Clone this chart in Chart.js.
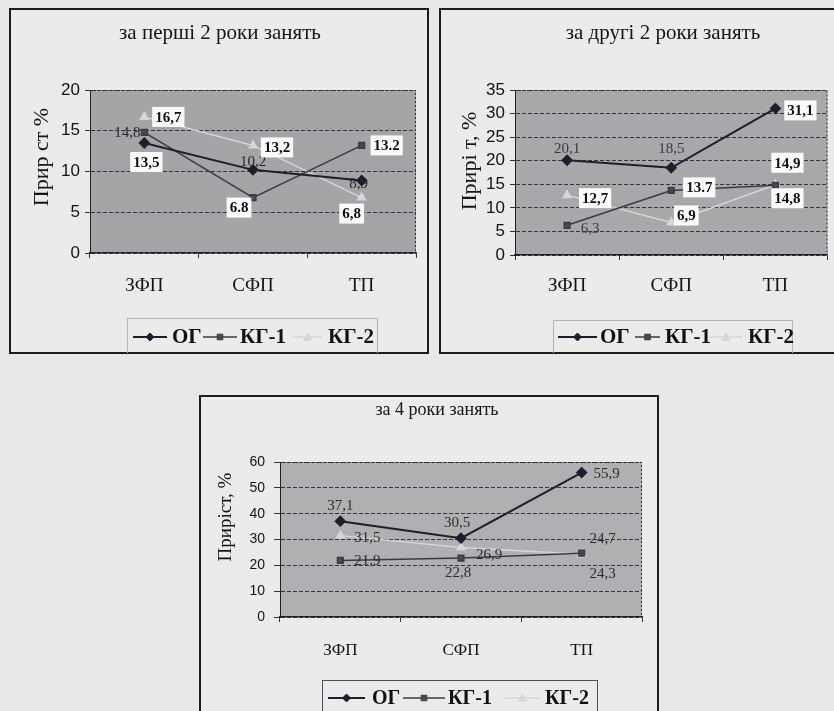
<!DOCTYPE html>
<html>
<head>
<meta charset="utf-8">
<script src="https://cdn.jsdelivr.net/npm/chart.js@4.4.1/dist/chart.umd.min.js"></script>
<style>
  html, body { margin: 0; padding: 0; }
  body { width: 834px; height: 711px; overflow: hidden; position: relative; background: #e8e8e8; }
  .frame { position: absolute; border: 2px solid #1c1c24; box-sizing: border-box; background: #ebebeb; }
  canvas { position: absolute; }
</style>
</head>
<body>
<div class="frame" style="left:9px; top:8px; width:420px; height:346px;"></div>
<div class="frame" style="left:439px; top:8px; width:400px; height:346px;"></div>
<div class="frame" style="left:199px; top:395px; width:460px; height:322px;"></div>
<canvas id="c1" width="418" height="345" style="left:10px; top:8px;"></canvas>
<canvas id="c2" width="394" height="345" style="left:440px; top:8px;"></canvas>
<canvas id="c3" width="460" height="315" style="left:200px; top:396px;"></canvas>
<script>
// Categories and series names shared by all three panels
const categories = ['ЗФП', 'СФП', 'ТП'];
const seriesNames = ['ОГ', 'КГ-1', 'КГ-2'];

// за перші 2 роки занять
const og1 = [13.5, 10.2, 8.9];
const kg1First = [14.8, 6.8, 13.2];
const kg2First = [16.7, 13.2, 6.8];
const yTicks1 = [0, 5, 10, 15, 20];

// за другі 2 роки занять
const og2 = [20.1, 18.5, 31.1];
const kg1Second = [6.3, 13.7, 14.8];
const kg2Second = [12.7, 6.9, 14.9];
const yTicks2 = [0, 5, 10, 15, 20, 25, 30, 35];

// за 4 роки занять
const og3 = [37.1, 30.5, 55.9];
const kg1Total = [21.9, 22.8, 24.7];
const kg2Total = [31.5, 26.9, 24.3];
const yTicks3 = [0, 10, 20, 30, 40, 50, 60];

const SERIF = "'Liberation Serif', 'Times New Roman', serif";
const SANS = "'Liberation Sans', Arial, sans-serif";

const seriesStyles = [
  { line: '#1e1e2c', fill: '#1e1e2c', width: 2, marker: 'rectRot', r: 4.5 },
  { line: '#3a3a44', fill: '#4a4a52', width: 1.5, marker: 'rect', r: 4 },
  { line: '#d6d6da', fill: '#d6d6da', width: 1.5, marker: 'triangle', r: 4.5 }
];

function buildDatasets(values) {
  return values.map((data, i) => ({
    label: seriesNames[i],
    data: data,
    borderColor: seriesStyles[i].line,
    backgroundColor: seriesStyles[i].fill,
    borderWidth: seriesStyles[i].width,
    pointStyle: seriesStyles[i].marker,
    pointRadius: seriesStyles[i].r,
    pointBorderColor: seriesStyles[i].line,
    pointBackgroundColor: seriesStyles[i].fill,
    tension: 0
  }));
}

// grey plot area and dotted frame around it
const plotArea = {
  id: 'plotArea',
  beforeDraw(chart, args, opts) {
    const { ctx, chartArea: a } = chart;
    ctx.save();
    ctx.fillStyle = opts.color;
    ctx.fillRect(a.left, a.top, a.right - a.left, a.bottom - a.top);
    ctx.restore();
  },
  afterDraw(chart) {
    const { ctx, chartArea: a } = chart;
    ctx.save();
    ctx.strokeStyle = '#30303a';
    ctx.lineWidth = 1;
    ctx.setLineDash([2, 2]);
    ctx.beginPath();
    ctx.moveTo(a.left, a.top + 0.5);
    ctx.lineTo(a.right - 0.5, a.top + 0.5);
    ctx.lineTo(a.right - 0.5, a.bottom);
    ctx.stroke();
    ctx.restore();
  }
};

// chart title and rotated value-axis title
const headings = {
  id: 'headings',
  afterDraw(chart, args, opts) {
    const ctx = chart.ctx;
    ctx.save();
    ctx.fillStyle = '#141418';
    ctx.textAlign = 'center';
    ctx.textBaseline = 'middle';
    ctx.font = opts.titleFont;
    ctx.fillText(opts.title, opts.titleX, opts.titleY);
    ctx.translate(opts.yTitleX, opts.yTitleY);
    ctx.rotate(-Math.PI / 2);
    ctx.font = opts.yTitleFont;
    ctx.fillText(opts.yTitle, 0, 0);
    ctx.restore();
  }
};

// value labels next to every point
const valueLabels = {
  id: 'valueLabels',
  afterDatasetsDraw(chart, args, opts) {
    const ctx = chart.ctx;
    ctx.save();
    chart.data.datasets.forEach((ds, i) => {
      const meta = chart.getDatasetMeta(i);
      meta.data.forEach((pt, j) => {
        const [dx, dy] = opts.offsets[i][j];
        const sep = (opts.dotSep && opts.dotSep[i][j]) ? '.' : ',';
        const txt = ds.data[j].toFixed(1).replace('.', sep);
        const boxed = opts.boxed[i][j];
        ctx.font = boxed ? opts.boxFont : opts.plainFont;
        const w = ctx.measureText(txt).width;
        const x = pt.x + dx;
        const y = pt.y + dy;
        if (boxed) {
          ctx.fillStyle = '#fbfbfb';
          ctx.fillRect(x - w / 2 - 3, y - 10, w + 6, 20);
        }
        ctx.fillStyle = boxed ? '#101010' : opts.plainColor;
        ctx.textAlign = 'center';
        ctx.textBaseline = 'middle';
        ctx.fillText(txt, x, y + 1);
      });
    });
    ctx.restore();
  }
};

function drawMarker(ctx, style, x, y, r) {
  ctx.beginPath();
  if (style === 'rectRot') {
    ctx.moveTo(x, y - r); ctx.lineTo(x + r, y); ctx.lineTo(x, y + r); ctx.lineTo(x - r, y);
  } else if (style === 'rect') {
    ctx.rect(x - r * 0.8, y - r * 0.8, r * 1.6, r * 1.6);
  } else {
    ctx.moveTo(x, y - r); ctx.lineTo(x + r, y + r * 0.8); ctx.lineTo(x - r, y + r * 0.8);
  }
  ctx.closePath();
  ctx.fill();
  ctx.stroke();
}

// boxed legend below the plot: line sample with marker, then the series name
const boxLegend = {
  id: 'boxLegend',
  afterDraw(chart, args, opts) {
    const ctx = chart.ctx;
    const [bx, by, bw, bh] = opts.box;
    ctx.save();
    ctx.strokeStyle = opts.borderColor;
    ctx.lineWidth = 1;
    ctx.strokeRect(bx + 0.5, by + 0.5, bw, bh);
    chart.data.datasets.forEach((ds, i) => {
      const [x0, x1, tx] = opts.items[i];
      const st = seriesStyles[i];
      ctx.strokeStyle = st.line;
      ctx.fillStyle = st.fill;
      ctx.lineWidth = st.width;
      ctx.beginPath();
      ctx.moveTo(x0, opts.cy);
      ctx.lineTo(x1, opts.cy);
      ctx.stroke();
      ctx.lineWidth = 1;
      drawMarker(ctx, st.marker, (x0 + x1) / 2, opts.cy, st.r - 0.5);
      ctx.fillStyle = '#101010';
      ctx.font = opts.font;
      ctx.textAlign = 'left';
      ctx.textBaseline = 'middle';
      ctx.fillText(ds.label, tx, opts.cy + 1);
    });
    ctx.restore();
  }
};

function makeChart(id, values, ticks, cfg) {
  return new Chart(document.getElementById(id), {
    type: 'line',
    data: { labels: categories, datasets: buildDatasets(values) },
    options: {
      responsive: false,
      animation: false,
      devicePixelRatio: 1,
      layout: { padding: cfg.padding },
      plugins: {
        legend: { display: false },
        tooltip: { enabled: false },
        plotArea: { color: cfg.plotColor },
        headings: cfg.headings,
        valueLabels: cfg.labels,
        boxLegend: cfg.legend
      },
      scales: {
        x: {
          offset: true,
          afterFit: s => { s.height = 60; },
          grid: { display: true, drawOnChartArea: false, drawTicks: true, tickLength: 5, offset: true, color: '#333' },
          border: { display: true, color: '#202028', width: 1.5 },
          ticks: { font: { family: SERIF, size: cfg.xFont }, color: '#121212', padding: cfg.xPad, maxRotation: 0 }
        },
        y: {
          min: ticks[0],
          max: ticks[ticks.length - 1],
          afterFit: s => { s.width = cfg.yWidth; },
          afterBuildTicks: s => { s.ticks = ticks.map(v => ({ value: v })); },
          grid: { color: '#34343e', lineWidth: 1, tickLength: cfg.yTickLen, tickColor: '#333' },
          border: { display: true, color: '#202028', width: 1, dash: [4, 2] },
          ticks: { font: { family: SANS, size: cfg.yFont }, color: '#121212', padding: cfg.yPad }
        }
      }
    },
    plugins: [plotArea, headings, valueLabels, boxLegend]
  });
}

makeChart('c1', [og1, kg1First, kg2First], yTicks1, {
  padding: { top: 82, left: 0, right: 12, bottom: 40 },
  plotColor: '#a5a5a8', yWidth: 80, xFont: 19, xPad: 17, yFont: 17, yPad: 5, yTickLen: 5,
  headings: { title: 'за перші 2 роки занять', titleX: 210, titleY: 25, titleFont: '21px ' + SERIF,
              yTitle: 'Прир ст %', yTitleX: 32, yTitleY: 149, yTitleFont: '22px ' + SERIF },
  labels: {
    offsets: [[[2, 19], [0, -9], [-3, 3]], [[-17, 0], [-14, 10], [25, 0]], [[24, 0], [24, 2], [-10, 16]]],
    boxed: [[true, false, false], [false, true, true], [true, true, true]],
    dotSep: [[false, false, false], [false, true, true], [false, false, false]],
    boxFont: 'bold 15px ' + SERIF, plainFont: '15px ' + SERIF, plainColor: '#26262c'
  },
  legend: { box: [117, 310, 250, 36], cy: 329, borderColor: '#b4b4b8', font: 'bold 21px ' + SERIF,
            items: [[123, 157, 162], [193, 227, 230], [283, 312, 318]] }
});

makeChart('c2', [og2, kg1Second, kg2Second], yTicks2, {
  padding: { top: 82, left: 0, right: 4, bottom: 38 },
  plotColor: '#a8a8ab', yWidth: 75, xFont: 19, xPad: 15, yFont: 17, yPad: 5, yTickLen: 5,
  headings: { title: 'за другі 2 роки занять', titleX: 223, titleY: 25, titleFont: '21px ' + SERIF,
              yTitle: 'Прирі т, %', yTitleX: 30, yTitleY: 153, yTitleFont: '22px ' + SERIF },
  labels: {
    offsets: [[[0, -12], [0, -20], [25, 2]], [[23, 3], [28, -3], [12, 13]], [[28, 3], [15, -7], [12, -22]]],
    boxed: [[false, false, true], [false, true, true], [true, true, true]],
    dotSep: [[false, false, false], [false, true, false], [false, false, false]],
    boxFont: 'bold 15px ' + SERIF, plainFont: '15px ' + SERIF, plainColor: '#3a3a40'
  },
  legend: { box: [113, 312, 239, 36], cy: 329, borderColor: '#b4b4b8', font: 'bold 21px ' + SERIF,
            items: [[118, 157, 160], [195, 220, 225], [270, 302, 308]] }
});

makeChart('c3', [og3, kg1Total, kg2Total], yTicks3, {
  padding: { top: 66, left: 0, right: 18, bottom: 34 },
  plotColor: '#b0b0b2', yWidth: 80, xFont: 17, xPad: 18, yFont: 14, yPad: 9, yTickLen: 6,
  headings: { title: 'за 4 роки занять', titleX: 237, titleY: 14, titleFont: '18px ' + SERIF,
              yTitle: 'Приріст, %', yTitleX: 26, yTitleY: 121, yTitleFont: '19px ' + SERIF },
  labels: {
    offsets: [[[0, -16], [-4, -16], [25, 0]], [[27, 0], [-3, 14], [21, -15]], [[27, 1], [28, 7], [21, 19]]],
    boxed: [[false, false, false], [false, false, false], [false, false, false]],
    boxFont: '15px ' + SERIF, plainFont: '15px ' + SERIF, plainColor: '#2c2c30'
  },
  legend: { box: [122, 284, 275, 40], cy: 302, borderColor: '#505058', font: 'bold 20px ' + SERIF,
            items: [[128, 165, 172], [203, 245, 248], [305, 340, 345]] }
});
</script>
</body>
</html>
